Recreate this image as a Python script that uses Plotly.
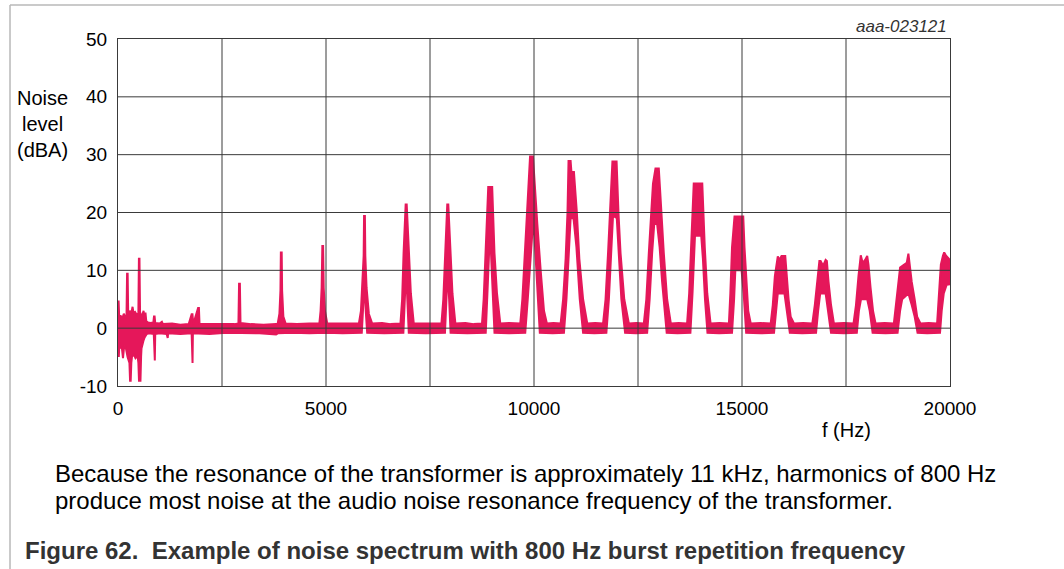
import plotly.graph_objects as go

RED = '#E5175A'
GRID = '#3a3a3a'
FONT = 'Liberation Sans, Arial, sans-serif'

# ---- data: envelopes of the measured spectrum (Hz, dBA) ----
upper_low = [
    (0, 4.6), (15, 4.6), (30, 1.8), (60, 2.2), (100, 1.6), (140, 2.5), (180, 1.8), (205, 2.2),
    (218, 9.4), (232, 9.4), (245, 2.4), (280, 3.0), (320, 2.6), (350, 3.7), (372, 2.6), (410, 2.8),
    (450, 2.3), (490, 2.6), (503, 12.0), (516, 12.0), (530, 2.8), (560, 2.0), (590, 2.4), (615, 3.0),
    (635, 1.5), (660, 2.7), (680, 1.2), (720, 1.0), (780, 0.9), (850, 1.0), (865, 2.0), (880, 2.0),
    (895, 0.9), (1000, 0.8), (1055, 1.1), (1080, 0.7), (1300, 0.8), (1500, 0.6), (1700, 0.7),
    (1770, 2.4), (1790, 2.4), (1810, 0.7), (1925, 3.5), (1945, 3.5), (1960, 0.7), (2200, 0.7),
    (2500, 0.6), (2800, 0.7), (2895, 0.8), (2910, 7.7), (2930, 7.7), (2945, 0.9), (3200, 0.7),
    (3500, 0.6), (3800, 0.7),
]
lower_low = [
    (0, -4.8), (20, -4.8), (35, -2.5), (60, -3.5), (90, -3.2), (120, -5.2), (150, -3.0), (190, -3.5),
    (230, -5.0), (275, -6.0), (290, -9.1), (305, -9.1), (320, -6.0), (335, -5.0), (380, -4.5),
    (420, -5.2), (470, -4.8), (490, -6.0), (505, -9.1), (540, -9.1), (555, -5.0), (565, -3.5),
    (610, -2.2), (640, -1.6), (690, -1.0), (750, -0.9), (860, -1.0), (870, -5.6), (885, -5.6),
    (895, -1.0), (1000, -0.9), (1170, -1.0), (1180, -1.7), (1195, -1.7), (1205, -0.9), (1500, -1.0),
    (1770, -0.9), (1778, -6.0), (1792, -6.0), (1800, -0.9), (2200, -1.0), (2600, -0.8), (3000, -0.8),
    (3400, -0.9), (3800, -1.1),
]
upper_harm = [
    (3840, 0.8), (3880, 2.5), (3905, 6.5), (3915, 13.1), (3935, 13.1), (3945, 6.5), (3975, 2.0), (4030, 0.8),
    (4300, 0.7), (4600, 0.8),
    (4840, 0.8), (4870, 3), (4895, 7), (4912, 14.2), (4930, 14.2), (4945, 7), (4975, 3), (5030, 0.8),
    (5300, 0.8), (5550, 0.7),
    (5790, 0.8), (5840, 3), (5880, 9), (5905, 12.5), (5915, 19.4), (5935, 19.4), (5945, 12.5), (5975, 7),
    (6030, 2.5), (6110, 0.8),
    (6350, 0.9), (6550, 0.7),
    (6790, 0.8), (6830, 5), (6865, 13), (6900, 19), (6915, 21.4), (6940, 21.4), (6960, 18), (6990, 13),
    (7040, 6), (7110, 0.8),
    (7350, 0.8), (7550, 0.9),
    (7775, 0.8), (7820, 5), (7860, 13), (7900, 19), (7915, 21.4), (7940, 21.4), (7960, 18), (7990, 13),
    (8040, 6), (8110, 0.8),
    (8350, 0.9), (8550, 0.7),
    (8750, 0.8), (8790, 5), (8830, 13), (8870, 20), (8900, 24.4), (8995, 24.4), (9010, 20), (9050, 13),
    (9110, 6), (9190, 0.8),
    (9400, 0.9),
    (9670, 0.8), (9720, 5), (9780, 13), (9830, 20), (9870, 25), (9905, 29.7), (9975, 29.7), (10010, 25),
    (10080, 18), (10160, 10), (10240, 3), (10310, 0.8),
    (10470, 0.9),
    (10640, 0.8), (10700, 5), (10760, 12), (10805, 20), (10830, 28.9), (10880, 28.9), (10900, 27),
    (10960, 27), (11000, 23), (11030, 20), (11090, 12), (11180, 5), (11280, 0.8),
    (11470, 0.9),
    (11660, 0.8), (11720, 5), (11780, 13), (11830, 20), (11860, 26), (11885, 28.8), (11985, 28.8),
    (12000, 24), (12030, 20), (12080, 13), (12170, 5), (12280, 0.8),
    (12460, 0.9),
    (12640, 0.8), (12700, 5), (12760, 13), (12810, 20), (12860, 25), (12920, 27.6), (13000, 27.6),
    (13030, 24), (13060, 20), (13120, 13), (13200, 5), (13290, 0.8),
    (13480, 0.9),
    (13680, 0.8), (13730, 6), (13780, 14), (13820, 20), (13840, 25), (14045, 25), (14065, 20),
    (14105, 14), (14165, 6), (14245, 0.8),
    (14460, 0.9),
    (14685, 0.8), (14720, 6), (14760, 14), (14820, 19.3), (15030, 19.3), (15060, 14), (15110, 7),
    (15150, 3), (15210, 0.8),
    (15450, 0.9),
    (15690, 0.8), (15740, 4), (15790, 9), (15830, 11.5), (15860, 12.4), (15900, 11.8), (15950, 12.5),
    (16040, 12.5), (16070, 9), (16120, 5), (16170, 2), (16250, 0.8),
    (16470, 0.9),
    (16690, 0.8), (16750, 4), (16820, 9), (16860, 11.6), (16890, 11.6), (16950, 10.8), (17010, 11.8),
    (17040, 11.6), (17080, 8), (17140, 4), (17210, 0.8),
    (17450, 0.9),
    (17680, 0.8), (17740, 4), (17800, 9), (17840, 12), (17855, 12.6), (17900, 11.3), (17960, 11.8),
    (18010, 12.5), (18040, 11), (18090, 7), (18150, 3), (18210, 0.8),
    (18430, 0.9),
    (18650, 0.8), (18700, 4), (18760, 9), (18800, 10.5), (18900, 11), (18960, 11.3), (19000, 12.9),
    (19030, 11), (19080, 8), (19150, 5), (19210, 2), (19290, 0.8),
    (19490, 0.9),
    (19690, 0.8), (19730, 5), (19780, 11), (19830, 12.5), (19860, 13.1), (19900, 12.6), (19960, 12),
    (20000, 11.8),
]
lower_harm = [
    (3840, -0.9), (4200, -0.8), (4600, -0.9), (5000, -0.8), (5400, -0.9),
    (5860, -0.8), (5895, 3), (5925, 8), (5955, 3), (5990, -0.8),
    (6400, -0.9), (6860, -0.8), (6895, 5), (6925, 10), (6955, 5), (6990, -0.8),
    (7400, -0.9), (7860, -0.8), (7895, 5), (7925, 10), (7960, 5), (7995, -0.8),
    (8400, -0.9), (8840, -0.8), (8880, 6), (8920, 13), (8960, 14), (9000, 8), (9050, -0.8),
    (9400, -0.9), (9790, -0.8), (9850, 5), (9920, 13), (9975, 18), (10010, 16), (10070, 8), (10140, -0.8),
    (10450, -0.9), (10720, -0.8), (10780, 5), (10840, 14), (10880, 19), (10950, 19), (11020, 14),
    (11100, 5), (11180, -0.8),
    (11450, -0.9), (11740, -0.8), (11800, 5), (11860, 15), (11900, 19.5), (11990, 19), (12040, 12),
    (12100, 5), (12190, -0.8),
    (12450, -0.9), (12720, -0.8), (12780, 5), (12840, 13), (12890, 18), (12960, 18), (13020, 14),
    (13080, 8), (13190, -0.8),
    (13450, -0.9), (13760, -0.8), (13810, 6), (13850, 14), (13870, 16), (14020, 16), (14060, 12),
    (14110, 5), (14170, -0.8),
    (14450, -0.9), (14760, -0.8), (14810, 5), (14840, 10), (14990, 10), (15040, 6), (15100, -0.8),
    (15450, -0.9), (15770, -0.8), (15820, 3), (15860, 6), (16020, 6), (16080, 3), (16150, -0.8),
    (16450, -0.9), (16780, -0.8), (16830, 3), (16880, 6), (17010, 6), (17060, 3), (17140, -0.8),
    (17450, -0.9), (17760, -0.8), (17810, 3), (17860, 5), (18010, 5), (18070, 3), (18140, -0.8),
    (18450, -0.9), (18740, -0.8), (18800, 3), (18850, 5), (19000, 6), (19080, 4), (19150, 2), (19220, -0.8),
    (19450, -0.9), (19760, -0.8), (19800, 3), (19850, 6), (19920, 7.5), (20000, 7.6),
]

x_ticks = [0, 2500, 5000, 7500, 10000, 12500, 15000, 17500, 20000]
x_tick_text = ['0', '', '5000', '', '10000', '', '15000', '', '20000']
y_ticks = [-10, 0, 10, 20, 30, 40, 50]
y_tick_text = ['-10', '0', '10', '20', '30', '40', '50']

upper_f = [p[0] for p in upper_low + upper_harm]
upper_db = [p[1] for p in upper_low + upper_harm]
lower_f = [p[0] for p in lower_low + lower_harm]
lower_db = [p[1] for p in lower_low + lower_harm]

fig = go.Figure()
fig.add_trace(go.Scatter(x=lower_f, y=lower_db, mode='lines',
                         line=dict(color=RED, width=2), showlegend=False, hoverinfo='skip'))
fig.add_trace(go.Scatter(x=upper_f, y=upper_db, mode='lines', fill='tonexty', fillcolor=RED,
                         line=dict(color=RED, width=2), showlegend=False))

# grid lines above the trace
for v in x_ticks[1:-1]:
    fig.add_shape(type='line', xref='x', yref='paper', x0=v, x1=v, y0=0, y1=1,
                  line=dict(color=GRID, width=1), layer='above')
for v in y_ticks[1:-1]:
    fig.add_shape(type='line', xref='paper', yref='y', x0=0, x1=1, y0=v, y1=v,
                  line=dict(color=GRID, width=1), layer='above')

# outer frame of the figure (grey)
fig.add_shape(type='line', xref='paper', yref='paper', x0=-0.1298, x1=1.14, y0=1.098, y1=1.098,
              line=dict(color='#b8b8b8', width=1.5))
fig.add_shape(type='line', xref='paper', yref='paper', x0=-0.1298, x1=-0.1298, y0=1.098, y1=-0.54,
              line=dict(color='#b8b8b8', width=1.5))

axis_font = dict(family=FONT, size=19, color='black')
fig.update_xaxes(range=[0, 20000], tickvals=x_ticks, ticktext=x_tick_text, showgrid=False,
                 zeroline=False, showline=True, mirror=True, linecolor=GRID, linewidth=1,
                 ticks='', tickfont=axis_font, ticklabelstandoff=5, layer='above traces')
fig.update_yaxes(range=[-10, 50], tickvals=y_ticks, ticktext=y_tick_text, showgrid=False,
                 zeroline=False, showline=True, mirror=True, linecolor=GRID, linewidth=1, ticks='',
                 tickfont=axis_font, ticklabelstandoff=6, layer='above traces')

annotations = [
    dict(text='aaa-023121', x=0.9988, y=1.0346, xanchor='right', yanchor='middle',
         font=dict(family=FONT, size=17, color='#333333', style='italic')),
    dict(text='Noise<br>level<br>(dBA)', x=-0.0913, y=0.755, xanchor='center', yanchor='middle',
         align='center', font=dict(family=FONT, size=20, color='black')),
    dict(text='f (Hz)', x=0.875, y=-0.128, xanchor='center', yanchor='middle',
         font=dict(family=FONT, size=20, color='black')),
    dict(text='Because the resonance of the transformer is approximately 11 kHz, harmonics of 800 Hz',
         x=-0.0781, y=-0.2536, xanchor='left', yanchor='middle', align='left',
         font=dict(family=FONT, size=24, color='black')),
    dict(text='produce most noise at the audio noise resonance frequency of the transformer.',
         x=-0.0781, y=-0.3314, xanchor='left', yanchor='middle', align='left',
         font=dict(family=FONT, size=24, color='black')),
    dict(text='<b>Figure 62.\u00a0 Example of noise spectrum with 800 Hz burst repetition frequency</b>',
         x=-0.1145, y=-0.4755, xanchor='left', yanchor='middle', align='left',
         font=dict(family=FONT, size=24, color='#333333')),
]
for a in annotations:
    a.update(xref='paper', yref='paper', showarrow=False)
fig.update_layout(annotations=annotations)

fig.update_layout(width=1064, height=569, margin=dict(l=118, r=114, t=39, b=183),
                  paper_bgcolor='white', plot_bgcolor='white')

fig.write_html('out.html', config={'displayModeBar': False},
               post_script="document.body.style.margin='0px';")
